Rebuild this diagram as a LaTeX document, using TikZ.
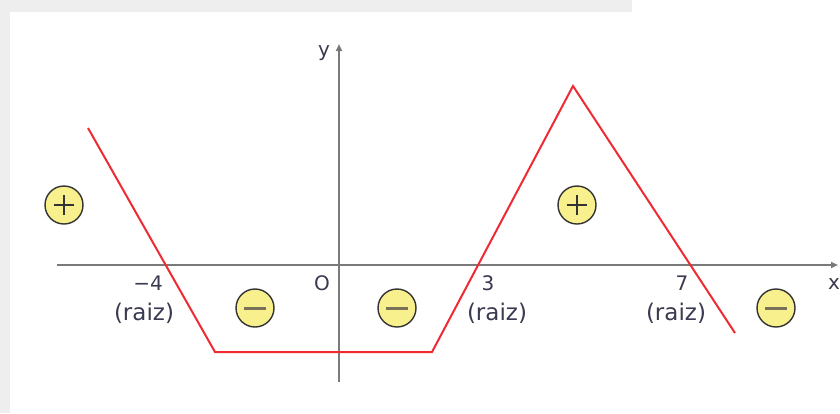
\documentclass[tikz,border=0pt]{standalone}
\usepackage{fontspec}
\setmainfont{DejaVu Sans}
\usetikzlibrary{arrows.meta}
\definecolor{bggray}{HTML}{EEEEEE}
\definecolor{axisgray}{HTML}{7A7A7A}
\definecolor{curvered}{HTML}{EE2B33}
\definecolor{signfill}{HTML}{F8F08C}
\definecolor{txt}{HTML}{3A3A50}
\definecolor{minusgray}{HTML}{7A7258}
\tikzset{
  axisline/.style={draw=axisgray, line width=2.8pt, -{Triangle[length=7pt,width=6pt,fill=black!85]}},
  curve/.style={draw=curvered, line width=2pt, line join=miter},
  sign/.style={circle, draw=black!80, line width=1.4pt, fill=signfill, minimum size=38pt, inner sep=0pt},
  plussign/.style={sign, path picture={
      \draw[line width=2.4pt, black!80] ([xshift=-10pt]path picture bounding box.center) -- ([xshift=10pt]path picture bounding box.center);
      \draw[line width=2.4pt, black!80] ([yshift=-10pt]path picture bounding box.center) -- ([yshift=10pt]path picture bounding box.center);}},
  minussign/.style={sign, path picture={
      \draw[line width=3pt, minusgray] ([xshift=-11pt]path picture bounding box.center) -- ([xshift=11pt]path picture bounding box.center);}},
  tick/.style={text=txt, font=\fontsize{20}{20}\selectfont, inner sep=0pt},
  rootlbl/.style={text=txt, font=\fontsize{23}{23}\selectfont, inner sep=0pt},
}
\begin{document}
\begin{tikzpicture}[x=1pt,y=-1pt]
\useasboundingbox (0,0) rectangle (840,413);
\fill[bggray] (0,0) rectangle (840,413);
\fill[white] (10,413) -- (10,12) -- (632,12) -- (632,0) -- (840,0) -- (840,413) -- cycle;
% axes
\coordinate (xs) at (57,265);
\coordinate (xe) at (838,265);
\coordinate (ys) at (339,382);
\coordinate (ye) at (339,44);
\draw[axisline] (xs) -- (xe);
\draw[axisline] (ys) -- (ye);
\node[tick] (xl) at (834,284) {x};
\node[tick] (yl) at (324,53) {y};
\node[tick] (ol) at (322,283) {O};
% curve
\coordinate (p1) at (88,128);
\coordinate (p2) at (215,352);
\coordinate (p3) at (432,352);
\coordinate (p4) at (573,86);
\coordinate (p5) at (735,333);
\draw[curve] (p1) -- (p2) -- (p3) -- (p4) -- (p5);
% root labels
\node[tick] (r1) at (148,283) {−4};
\node[rootlbl] (r1b) at (144,313) {(raiz)};
\node[tick] (r2) at (488,283) {3};
\node[rootlbl] (r2b) at (497,313) {(raiz)};
\node[tick] (r3) at (682,283) {7};
\node[rootlbl] (r3b) at (676,313) {(raiz)};
% signs
\node[plussign] (s1) at (64,205) {};
\node[minussign] (s2) at (255,308) {};
\node[minussign] (s3) at (397,308) {};
\node[plussign] (s4) at (577,205) {};
\node[minussign] (s5) at (776,308) {};
\end{tikzpicture}
\end{document}
